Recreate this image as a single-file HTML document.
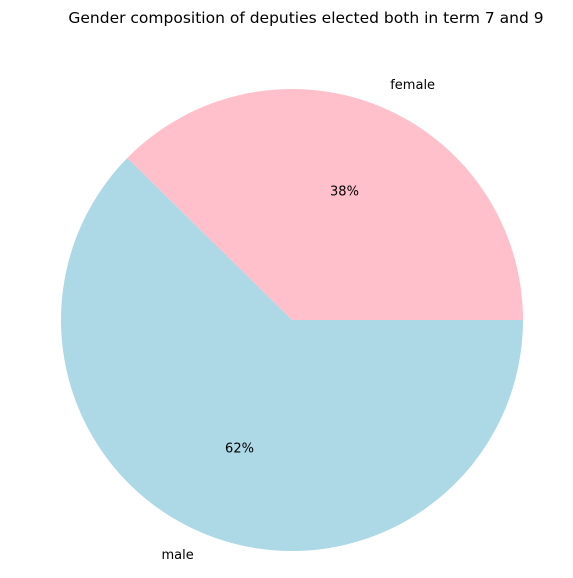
<!DOCTYPE html>
<html><head><meta charset="utf-8"><style>
html,body{margin:0;padding:0;background:#fff;}
svg text{font-family:"DejaVu Sans","Liberation Sans",sans-serif;}
</style></head><body>
<svg id="chart" width="573" height="573" viewBox="0 0 573 573">
<text x="306" y="23" text-anchor="middle" font-size="15.5" fill="#000">Gender composition of deputies elected both in term 7 and 9</text>
<g id="slices"></g>
</svg>
<script>
const categories = ["female", "male"];
const values = [35, 58];
const colors = ["#ffc0cb", "#add8e6"];
const cx = 292, cy = 320, r = 231;
const svg = document.getElementById('slices');
const NS = 'http://www.w3.org/2000/svg';
const total = values.reduce((a,b)=>a+b,0);
let start = 0;
function pt(angDeg, rad){const a=angDeg*Math.PI/180;return [cx+rad*Math.cos(a), cy-rad*Math.sin(a)];}
values.forEach((v,i)=>{
  const sweep = v/total*360;
  const end = start+sweep;
  const p1 = pt(start,r), p2 = pt(end,r);
  const large = sweep>180?1:0;
  const path = document.createElementNS(NS,'path');
  path.setAttribute('d',`M${cx},${cy} L${p1[0]},${p1[1]} A${r},${r} 0 ${large} 0 ${p2[0]},${p2[1]} Z`);
  path.setAttribute('fill',colors[i]);
  
  
  svg.appendChild(path);
  const mid = start+sweep/2;
  const lp = pt(mid, r*1.1);
  const right = Math.cos(mid*Math.PI/180)>=0;
  const lab = document.createElementNS(NS,'text');
  lab.setAttribute('x',lp[0]+(right?2:-2)); lab.setAttribute('y',lp[1]+4);
  lab.setAttribute('font-size','13');
  lab.setAttribute('text-anchor', right?'start':'end');
  lab.textContent = categories[i];
  
  
  svg.appendChild(lab);
  const pp = pt(mid, r*0.6);
  const pct = document.createElementNS(NS,'text');
  pct.setAttribute('x',pp[0]); pct.setAttribute('y',pp[1]+4);
  pct.setAttribute('font-size','13');
  pct.setAttribute('text-anchor','middle');
  pct.textContent = Math.round(v/total*100)+'%';
  
  
  svg.appendChild(pct);
  start = end;
});
</script>
</body></html>
